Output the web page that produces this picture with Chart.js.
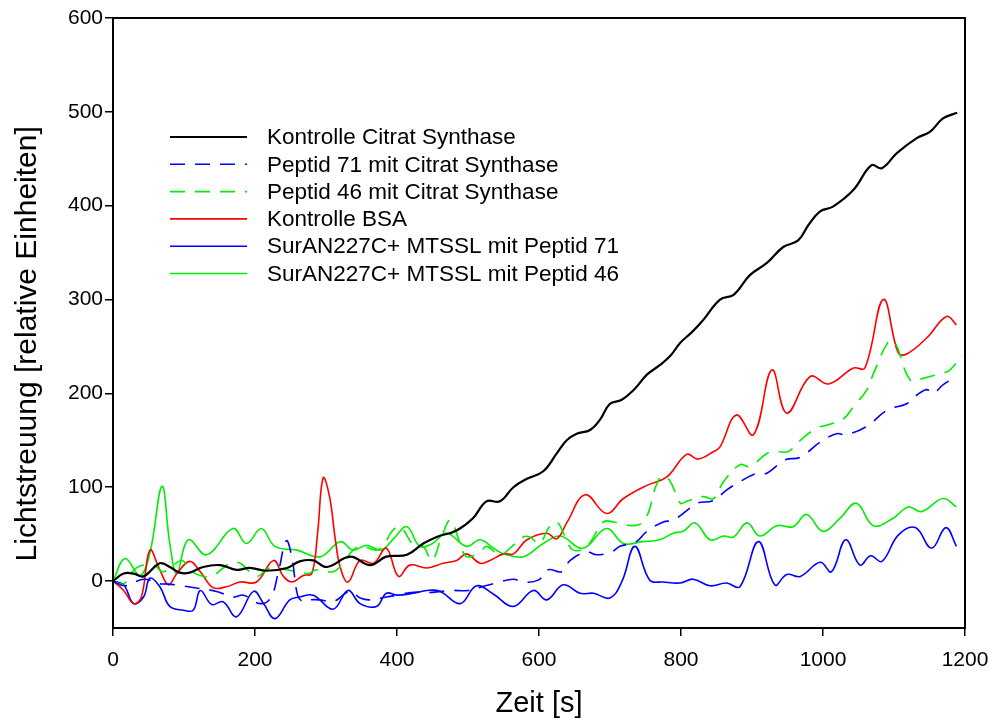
<!DOCTYPE html>
<html>
<head>
<meta charset="utf-8">
<script src="https://cdn.jsdelivr.net/npm/chart.js@4.4.1/dist/chart.umd.min.js"></script>
<style>
  html, body { margin: 0; padding: 0; background: #fff; }
  #wrap { width: 996px; height: 722px; }
</style>
</head>
<body>
<div id="wrap"><canvas id="myChart" width="996" height="722"></canvas></div>
<script>
// Achsen
const xTicks = [0, 200, 400, 600, 800, 1000, 1200]
const yTicks = [0, 100, 200, 300, 400, 500, 600]

// Kontrolle Citrat Synthase
const tKontrolleCS = [0, 15, 29, 43, 66, 80, 94, 108, 127, 151, 174, 193, 216, 245, 263, 282, 301, 334, 362, 385, 414, 437, 456, 484, 507, 526, 545, 564, 583, 606, 625, 639, 653, 672, 686, 700, 716, 735, 752, 770, 785, 799, 815, 831, 855, 874, 897, 921, 944, 965, 980, 996, 1014, 1043, 1068, 1083, 1104, 1132, 1151, 1169, 1189]
const yKontrolleCS = [0, 8, 8, 5, 19, 15, 9, 9, 15, 17, 12, 14, 11, 14, 21, 22, 15, 26, 17, 26, 28, 40, 47, 54, 67, 85, 85, 100, 109, 117, 136, 150, 157, 161, 172, 189, 193, 205, 220, 230, 240, 254, 265, 278, 300, 305, 326, 339, 356, 363, 380, 394, 399, 417, 443, 440, 456, 472, 479, 493, 499]

// Peptid 71 mit Citrat Synthase
const tPeptid71CS = [0, 17, 43, 66, 76, 97, 123, 146, 169, 184, 207, 222, 233, 244, 252, 260, 268, 277, 292, 310, 334, 348, 362, 385, 400, 423, 450, 475, 500, 520, 540, 564, 578, 599, 613, 632, 644, 667, 681, 702, 714, 737, 752, 775, 789, 813, 822, 846, 864, 883, 907, 921, 946, 968, 996, 1019, 1033, 1062, 1090, 1118, 1132, 1146, 1155, 1169, 1188]
const yPeptid71CS = [0, -5, 2, -3, -3, -5, -8, -11, -17, -15, -24, -18, 10, 43, 25, -15, -22, -20, -20, -22, -11, -18, -20, -17, -15, -12, -12, -10, -10, -6, -2, 2, -1, 1, 12, 10, 22, 31, 28, 31, 37, 42, 53, 63, 65, 78, 83, 86, 97, 106, 115, 115, 129, 132, 148, 157, 156, 165, 182, 189, 198, 204, 200, 209, 218]

// Peptid 46 mit Citrat Synthase
const tPeptid46CS = [0, 15, 33, 57, 71, 97, 108, 127, 141, 165, 179, 202, 221, 245, 259, 275, 287, 310, 324, 338, 350, 371, 381, 393, 404, 425, 437, 449, 462, 475, 489, 498, 517, 526, 545, 562, 578, 587, 601, 613, 625, 637, 648, 667, 691, 705, 719, 740, 752, 766, 775, 785, 799, 808, 831, 846, 860, 883, 897, 921, 935, 951, 968, 991, 1005, 1029, 1043, 1062, 1071, 1092, 1101, 1123, 1141, 1165, 1179, 1195]
const yPeptid46CS = [0, -3, 14, 17, 10, 22, 12, 5, 6, 19, 19, 5, 14, 12, 10, 8, 12, 10, 19, 33, 37, 33, 38, 53, 58, 37, 37, 22, 45, 65, 40, 26, 31, 37, 28, 37, 47, 47, 40, 56, 63, 47, 33, 37, 63, 63, 60, 60, 69, 104, 112, 106, 83, 85, 90, 88, 106, 124, 122, 136, 138, 138, 150, 163, 166, 173, 186, 204, 221, 255, 255, 214, 216, 221, 225, 241]

// Kontrolle BSA
const tKontrolleBSA = [0, 15, 29, 40, 52, 66, 78, 90, 108, 123, 141, 160, 179, 202, 226, 240, 252, 268, 280, 288, 296, 305, 313, 320, 331, 348, 367, 385, 402, 418, 442, 465, 484, 498, 517, 531, 550, 564, 583, 611, 625, 639, 665, 695, 719, 752, 780, 808, 824, 846, 855, 878, 902, 928, 949, 982, 1008, 1043, 1059, 1085, 1106, 1118, 1146, 1174, 1188]
const yKontrolleBSA = [0, -10, -24, -17, 33, 12, -4, 8, 21, 10, -7, -6, -1, -1, 22, 5, -1, 6, 8, 50, 110, 90, 45, 15, -1, 22, 19, 35, 5, 17, 14, 19, 22, 29, 19, 22, 29, 29, 44, 51, 45, 62, 92, 72, 88, 102, 111, 135, 130, 138, 143, 177, 156, 225, 179, 218, 210, 227, 227, 300, 243, 242, 259, 282, 273]

// SurAN227C+ MTSSL mit Peptid 71
const tSurAN71 = [0, 15, 29, 43, 52, 66, 80, 99, 113, 123, 139, 155, 174, 198, 212, 228, 249, 263, 282, 310, 331, 348, 371, 385, 400, 423, 442, 461, 489, 512, 536, 564, 592, 611, 634, 658, 677, 700, 717, 735, 756, 775, 799, 817, 841, 864, 883, 909, 932, 949, 968, 996, 1012, 1032, 1052, 1067, 1083, 1106, 1130, 1153, 1173, 1188]
const ySurAN71 = [0, -4, -24, -17, 3, -6, -27, -31, -31, -10, -25, -22, -38, -11, -24, -40, -20, -17, -15, -30, -10, -24, -27, -13, -15, -13, -10, -11, -24, -5, -14, -27, -10, -20, -4, -13, -13, -18, 0, 37, 1, -1, -2, 2, -5, -2, -6, 42, -4, 7, 5, 20, 10, 44, 17, 27, 21, 49, 57, 35, 57, 37]

// SurAN227C+ MTSSL mit Peptid 46
const tSurAN46 = [0, 17, 38, 52, 69, 80, 90, 106, 132, 169, 188, 209, 228, 259, 292, 320, 338, 357, 378, 395, 414, 432, 450, 470, 498, 517, 536, 550, 578, 606, 630, 662, 695, 719, 745, 770, 789, 803, 820, 841, 860, 874, 893, 911, 935, 958, 977, 1000, 1024, 1047, 1071, 1099, 1120, 1139, 1169, 1188]
const ySurAN46 = [0, 24, 6, 30, 101, 40, 8, 44, 28, 56, 40, 56, 37, 33, 26, 42, 33, 38, 33, 45, 58, 37, 40, 51, 37, 44, 35, 29, 26, 40, 48, 35, 56, 40, 42, 44, 51, 53, 62, 44, 48, 47, 62, 48, 59, 58, 71, 53, 67, 83, 59, 67, 79, 74, 88, 79]

const pts = (t, y) => t.map((v, i) => ({ x: v, y: y[i] }))

const series = [
  { label: 'Kontrolle Citrat Synthase', data: pts(tKontrolleCS, yKontrolleCS), color: '#000000', dash: [], width: 2.2 },
  { label: 'Peptid 71 mit Citrat Synthase', data: pts(tPeptid71CS, yPeptid71CS), color: '#0000ff', dash: [15, 10], width: 1.6 },
  { label: 'Peptid 46 mit Citrat Synthase', data: pts(tPeptid46CS, yPeptid46CS), color: '#00ee00', dash: [15, 10], width: 1.6 },
  { label: 'Kontrolle BSA', data: pts(tKontrolleBSA, yKontrolleBSA), color: '#ff0000', dash: [], width: 1.6 },
  { label: 'SurAN227C+ MTSSL mit Peptid 71', data: pts(tSurAN71, ySurAN71), color: '#0000ff', dash: [], width: 1.6 },
  { label: 'SurAN227C+ MTSSL mit Peptid 46', data: pts(tSurAN46, ySurAN46), color: '#00ee00', dash: [], width: 1.6 }
]

const FONT = '"Liberation Sans", Arial, sans-serif'

// rahmen oben und rechts
const frame = {
  id: 'frame',
  afterDraw(chart) {
    const a = chart.chartArea
    const ctx = chart.ctx
    ctx.save()
    ctx.strokeStyle = '#000'
    ctx.lineWidth = 2
    ctx.strokeRect(a.left, a.top, a.right - a.left, a.bottom - a.top)
    ctx.restore()
  }
}

// legende im diagramm
const legendBox = {
  id: 'legendBox',
  afterDraw(chart) {
    const ctx = chart.ctx
    ctx.save()
    ctx.font = '22.5px ' + FONT
    ctx.textBaseline = 'middle'
    chart.data.datasets.forEach((ds, i) => {
      const y = 137 + i * 27.3
      ctx.beginPath()
      ctx.strokeStyle = ds.borderColor
      ctx.lineWidth = ds.borderWidth
      ctx.setLineDash(ds.borderDash)
      ctx.moveTo(170, y)
      ctx.lineTo(247, y)
      ctx.stroke()
      ctx.setLineDash([])
      ctx.fillStyle = '#000'
      ctx.fillText(ds.label, 267, y + 1)
    })
    ctx.restore()
  }
}

const ctx = document.getElementById('myChart')
new Chart(ctx, {
  type: 'line',
  data: {
    datasets: series.map(s => ({
      label: s.label,
      data: s.data,
      borderColor: s.color,
      borderDash: s.dash,
      borderWidth: s.width,
      pointRadius: 0,
      tension: 0.4,
      fill: false
    }))
  },
  options: {
    responsive: false,
    animation: false,
    layout: { padding: { top: 18, right: 31, left: 0, bottom: 0 } },
    plugins: { legend: { display: false }, tooltip: { enabled: false } },
    scales: {
      x: {
        type: 'linear',
        min: 0,
        max: 1200,
        afterFit: s => { s.height = 94; s.paddingRight = 0 },
        afterBuildTicks: s => { s.ticks = xTicks.map(v => ({ value: v })) },
        border: { color: '#000', width: 2 },
        grid: { drawOnChartArea: false, drawTicks: true, tickLength: 8, color: '#000', lineWidth: 1.5 },
        ticks: { color: '#000', font: { family: FONT, size: 21 }, padding: 12, maxRotation: 0, callback: v => String(v) },
        title: { display: true, text: 'Zeit [s]', color: '#000', font: { family: FONT, size: 29 }, padding: { top: 0, bottom: 1 } }
      },
      y: {
        min: -50,
        max: 600,
        afterFit: s => { s.width = 113 },
        afterBuildTicks: s => { s.ticks = yTicks.map(v => ({ value: v })) },
        border: { color: '#000', width: 2 },
        grid: { drawOnChartArea: false, drawTicks: true, tickLength: 8, color: '#000', lineWidth: 1.5 },
        ticks: { color: '#000', font: { family: FONT, size: 21 }, padding: 2, callback: v => String(v) },
        // nbsp am ende schiebt den titel etwas nach unten
        title: { display: true, text: 'Lichtstreuung [relative Einheiten]\u00A0\u00A0\u00A0\u00A0\u00A0', color: '#000', font: { family: FONT, size: 30 }, padding: { top: 10, bottom: 0 } }
      }
    }
  },
  plugins: [frame, legendBox]
})
</script>
</body>
</html>
